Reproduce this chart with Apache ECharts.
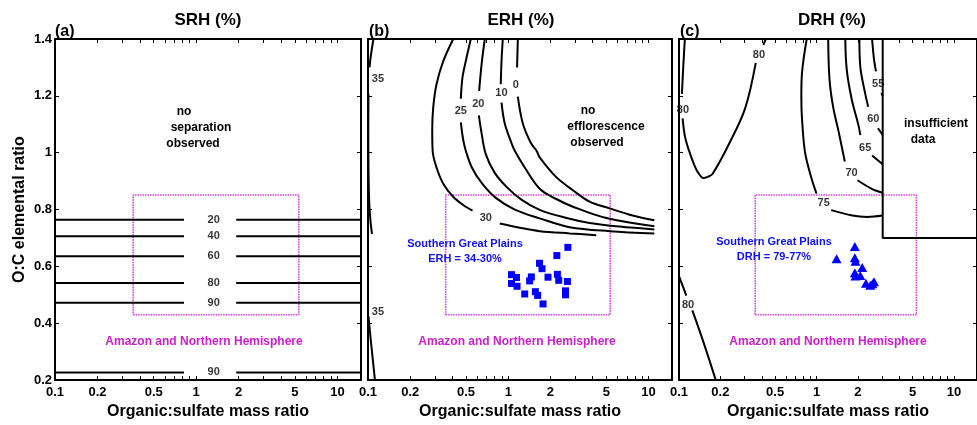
<!DOCTYPE html>
<html><head><meta charset="utf-8">
<script src="https://cdn.jsdelivr.net/npm/echarts@6/dist/echarts.min.js"></script>
<style>html,body{margin:0;padding:0;background:#fff}#c{width:977px;height:425px}</style>
</head><body><div id="c"></div>
<script>
// ---------- axes ----------
const xLabelValues = [0.1, 0.2, 0.5, 1, 2, 5, 10];
const xTickValues = [0.1,0.2,0.3,0.4,0.5,0.6,0.7,0.8,0.9,1,2,3,4,5,6,7,8,9,10];
const xRange = [0.1, 14.7];
const yRange = [0.2, 1.4];
const yInterval = 0.2;
const panelTitles = ['SRH (%)', 'ERH (%)', 'DRH (%)'];
const panelLetters = ['(a)', '(b)', '(c)'];
const xAxisName = 'Organic:sulfate mass ratio';
const yAxisName = 'O:C elemental ratio';

// ---------- (a) SRH ----------
const srhLevels = ['20', '40', '60', '80', '90', '90'];
const srhY = [0.764, 0.706, 0.636, 0.542, 0.472, 0.227];
const srhGap = [0.82, 1.92];
const srhLabelX = 1.33;

// ---------- (b) ERH contours (null = label gap) ----------
const erh0 = [[1.17,1.40],[1.155,1.30],null,[1.17,1.197],[1.27,1.103],[1.45,1.034],[1.59,1.007],[1.68,0.983],[2.20,0.914],[2.89,0.868],[3.80,0.828],[5.28,0.804],[7.69,0.779],[11.0,0.762]];
const erh10 = [[0.914,1.40],[0.895,1.321],[0.884,1.241],null,[0.895,1.176],[0.944,1.103],[1.054,1.034],[1.113,1.007],[1.31,0.948],[1.676,0.873],[2.18,0.838],[2.89,0.810],[5.0,0.770],[11.0,0.741]];
const erh20 = [[0.680,1.40],[0.645,1.31],[0.620,1.217],null,[0.617,1.131],[0.645,1.069],[0.692,0.994],[0.801,0.929],[0.976,0.879],[1.248,0.834],[1.676,0.799],[2.52,0.772],[3.80,0.753],[6.22,0.740],[11.0,0.730]];
const erh25 = [[0.541,1.40],[0.504,1.334],[0.472,1.266],[0.459,1.190],null,[0.459,1.107],[0.477,1.046],[0.498,1.007],[0.550,0.948],[0.648,0.893],[0.815,0.841],[1.113,0.800],[1.676,0.769],[2.74,0.738],[5.28,0.724],[11.0,0.716]];
const erh30 = [[0.405,1.40],[0.344,1.322],[0.308,1.241],[0.292,1.161],[0.287,1.080],[0.289,1.006],[0.308,0.948],[0.344,0.891],[0.405,0.845],[0.477,0.816],[0.556,0.796],null,[0.870,0.751],[1.207,0.736],[1.676,0.724],[2.74,0.716],[4.24,0.710]];
const erh35a = [[0.1094,1.40],[0.105,1.345],[0.1025,1.30],null,[0.1008,1.207],[0.1005,1.086],[0.1008,0.948],[0.102,0.828],[0.1042,0.759],[0.1068,0.714]];
const erh35b = [[0.1008,0.424],[0.105,0.334],[0.1089,0.259],[0.1121,0.20]];
const erhLabels = [[1.131,1.238,'0'],[0.894,1.210,'10'],[0.612,1.172,'20'],[0.459,1.147,'25'],[0.692,0.771,'30'],[0.1178,1.259,'35'],[0.1178,0.441,'35']];
const sgpErhX = [2.66,2.22,1.67,1.74,1.054,1.144,1.46,1.42,1.92,2.24,2.29,2.64,1.054,1.155,1.31,1.56,1.62,2.56,2.56,1.77];
const sgpErhY = [0.667,0.638,0.611,0.592,0.571,0.561,0.563,0.549,0.562,0.572,0.551,0.547,0.540,0.530,0.503,0.511,0.498,0.514,0.500,0.468];

// ---------- (c) DRH contours ----------
const drh80a = [[0.1103,1.40],[0.1076,1.31],[0.105,1.207],null,[0.1062,1.121],[0.1103,1.059],[0.1164,1.017],[0.1299,0.954],[0.1386,0.928],[0.1504,0.911],[0.1632,0.916],[0.1751,0.925],[0.230,1.029],[0.3022,1.155],[0.3616,1.316],null,[0.4107,1.379],[0.4278,1.40]];
const drh80b = [[0.1005,0.563],[0.1103,0.511],[0.113,0.497],null,[0.1251,0.445],[0.1529,0.324],[0.1851,0.20]];
const drh75 = [[0.849,1.40],[0.783,1.276],[0.776,1.203],[0.783,1.127],[0.826,1.0],[0.922,0.908],[1.0,0.856],null,[1.278,0.798],[1.821,0.779],[2.338,0.774],[3.03,0.779]];
const drh70 = [[1.216,1.40],[1.243,1.259],[1.320,1.162],[1.456,1.069],[1.606,0.969],null,[1.986,0.903],[2.524,0.873],[3.03,0.859]];
const drh65 = [[1.619,1.40],[1.659,1.293],[1.800,1.190],[2.018,1.097],[2.085,1.062],null,[2.537,0.990],[3.03,0.959]];
const drh60 = [[2.051,1.40],[2.085,1.30],[2.262,1.207],[2.376,1.162],null,[2.798,1.086],[3.03,1.063]];
const drh55 = [[2.537,1.40],[2.62,1.328],[2.707,1.286],null,[2.963,1.210],[3.03,1.20]];
const drhLabels = [[0.1068,1.149,'80'],[0.3815,1.345,'80'],[0.1164,0.466,'80'],[1.127,0.822,'75'],[1.80,0.928,'70'],[2.26,1.017,'65'],[2.59,1.117,'60'],[2.81,1.241,'55']];
const insufficientX = [3.03, 3.03, 14.7];
const insufficientY = [1.40, 0.70, 0.70];
const sgpDrhX = [1.90,1.40,1.90,1.92,2.15,1.90,1.92,2.08,2.29,2.46,2.62,2.55];
const sgpDrhY = [0.670,0.627,0.630,0.618,0.596,0.578,0.566,0.568,0.541,0.534,0.546,0.539];

// ---------- Amazon / NH box (all panels) ----------
const boxX = [0.358, 5.33];
const boxY = [0.430, 0.851];

// ================================================================
const FONT = '"Liberation Sans", Arial, Helvetica, sans-serif';
const L = v => Math.log10(v);
const grids = [
  {left: 55, top: 39, width: 306, height: 348},
  {left: 368, top: 39, width: 304, height: 348},
  {left: 679, top: 39, width: 306, height: 348}
];
const fmtX = v => String(+Math.pow(10, v).toPrecision(2));

const xAxes = [], yAxes = [];
grids.forEach((g, i) => {
  const base = {
    gridIndex: i, type: 'value', min: L(xRange[0]), max: L(xRange[1]),
    splitLine: {show: false},
    axisLine: {show: true, onZero: false, lineStyle: {color: '#000', width: 2}},
    axisTick: {show: true, inside: true, length: 4, customValues: xTickValues.map(L), lineStyle: {color: '#000', width: 1}}
  };
  xAxes.push(Object.assign({}, base, {
    position: 'bottom',
    axisLabel: {show: true, customValues: xLabelValues.map(L), formatter: fmtX, color: '#000', fontSize: 13, fontWeight: 'bold', fontFamily: FONT, margin: 6},
    name: xAxisName, nameLocation: 'middle', nameGap: 17,
    nameTextStyle: {color: '#000', fontSize: 16, fontWeight: 'bold', fontFamily: FONT}
  }));
  xAxes.push(Object.assign({}, base, {position: 'top', axisLabel: {show: false}}));
  const ybase = {
    gridIndex: i, type: 'value', min: yRange[0], max: yRange[1], interval: yInterval,
    splitLine: {show: false},
    axisLine: {show: true, onZero: false, lineStyle: {color: '#000', width: 2}},
    axisTick: {show: true, inside: true, length: 4, lineStyle: {color: '#000', width: 1}}
  };
  yAxes.push(Object.assign({}, ybase, {
    position: 'left',
    axisLabel: {show: i === 0, color: '#000', fontSize: 13, fontWeight: 'bold', fontFamily: FONT, margin: 3,
      formatter: v => String(+v.toFixed(1))},
    name: i === 0 ? yAxisName : '', nameLocation: 'middle', nameGap: 27,
    nameTextStyle: {color: '#000', fontSize: 16, fontWeight: 'bold', fontFamily: FONT}
  }));
  yAxes.push(Object.assign({}, ybase, {position: 'right', axisLabel: {show: false}}));
});

function segments(pts) {
  const out = []; let cur = [];
  pts.forEach(p => { if (p === null) { if (cur.length) out.push(cur); cur = []; } else cur.push(p); });
  if (cur.length) out.push(cur);
  return out;
}
const series = [];
function addCurve(pts, gi, opts) {
  segments(pts).forEach(s => {
    series.push(Object.assign({
      type: 'line', xAxisIndex: gi * 2, yAxisIndex: gi * 2,
      data: s.map(p => [L(p[0]), p[1]]),
      smooth: 0.35, symbol: 'none', silent: true, z: 3,
      lineStyle: {color: '#000', width: 2}
    }, opts || {}));
  });
}
function addLabels(list, gi) {
  series.push({
    type: 'scatter', xAxisIndex: gi * 2, yAxisIndex: gi * 2, silent: true, z: 5,
    symbolSize: 1, itemStyle: {color: 'rgba(0,0,0,0)'},
    data: list.map(d => ({value: [L(d[0]), d[1]], name: d[2]})),
    label: {show: true, position: 'inside', formatter: '{b}', color: '#000', fontSize: 11, fontWeight: 'bold', fontFamily: FONT},
    labelLayout: {hideOverlap: false}
  });
}
function addBox(gi) {
  const pts = [[boxX[0], boxY[0]], [boxX[1], boxY[0]], [boxX[1], boxY[1]], [boxX[0], boxY[1]], [boxX[0], boxY[0]]];
  addCurve(pts, gi, {smooth: false, z: 2, lineStyle: {color: '#d040d0', width: 1.6, type: [1.5, 1]}});
}

// (a)
srhY.forEach((y, k) => {
  addCurve([[xRange[0], y], [srhGap[0], y], null, [srhGap[1], y], [xRange[1], y]], 0, {smooth: false});
});
addLabels(srhY.map((y, k) => [srhLabelX, y, srhLevels[k]]), 0);
addBox(0);

// (b)
[erh0, erh10, erh20, erh25, erh30, erh35a, erh35b].forEach(c => addCurve(c, 1));
addLabels(erhLabels, 1);
addBox(1);
series.push({
  type: 'scatter', xAxisIndex: 2, yAxisIndex: 2, silent: true, z: 6,
  symbol: 'rect', symbolSize: 7, itemStyle: {color: '#0000ff', opacity: 1},
  data: sgpErhX.map((x, k) => [L(x), sgpErhY[k]])
});

// (c)
[drh80a, drh80b, drh75, drh70, drh65, drh60, drh55].forEach(c => addCurve(c, 2));
addCurve(insufficientX.map((x, k) => [x, insufficientY[k]]), 2, {smooth: false});
addLabels(drhLabels, 2);
addBox(2);
series.push({
  type: 'scatter', xAxisIndex: 4, yAxisIndex: 4, silent: true, z: 6,
  symbol: 'triangle', symbolSize: [10, 9], itemStyle: {color: '#0000ff', opacity: 1},
  data: sgpDrhX.map((x, k) => [L(x), sgpDrhY[k]])
});

// ---------- annotation texts ----------
function txt(text, x, y, size, color, align, weight) {
  return {type: 'text', z: 100, silent: true, style: {
    text: text, x: x, y: y, fill: color || '#000', align: align || 'center', verticalAlign: 'middle',
    font: (weight || 'bold') + ' ' + size + 'px ' + FONT}};
}
const graphics = [
  txt(panelTitles[0], 208, 20, 17), txt(panelTitles[1], 521, 20, 17), txt(panelTitles[2], 832, 20, 17),
  txt(panelLetters[0], 55, 32, 16, '#000', 'left'), txt(panelLetters[1], 369, 32, 16, '#000', 'left'), txt(panelLetters[2], 680, 32, 16, '#000', 'left'),
  txt('no', 184, 112, 12), txt('separation', 201, 128, 12), txt('observed', 193, 144, 12),
  txt('no', 588, 111, 12), txt('efflorescence', 606, 127, 12), txt('observed', 597, 143, 12),
  txt('insufficient', 936, 124, 12), txt('data', 923, 140, 12),
  txt('Southern Great Plains', 465, 244, 11, '#1010ee'), txt('ERH = 34-30%', 465, 259, 11, '#1010ee'),
  txt('Southern Great Plains', 774, 242, 11, '#1010ee'), txt('DRH = 79-77%', 774, 257, 11, '#1010ee'),
  txt('Amazon and Northern Hemisphere', 204, 342, 12, '#c822c8'),
  txt('Amazon and Northern Hemisphere', 517, 342, 12, '#c822c8'),
  txt('Amazon and Northern Hemisphere', 828, 342, 12, '#c822c8')
];

const chart = echarts.init(document.getElementById('c'), null, {renderer: 'canvas'});
chart.setOption({
  animation: false,
  backgroundColor: '#fff',
  grid: grids,
  xAxis: xAxes,
  yAxis: yAxes,
  series: series,
  graphic: graphics
});
</script>
</body></html>
